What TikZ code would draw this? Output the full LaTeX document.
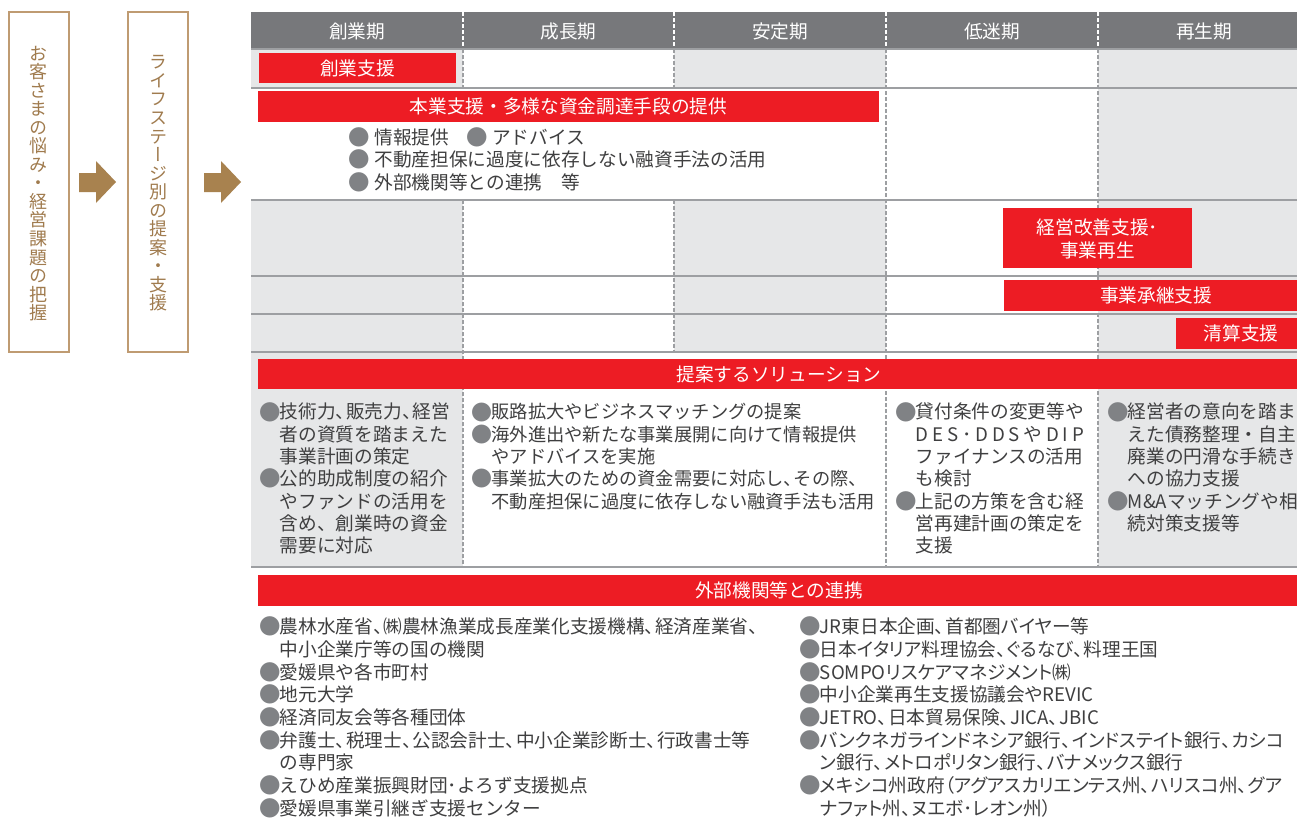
\documentclass[tikz,border=0pt]{standalone}
\usepackage{fontspec}
\setmainfont{Noto Sans CJK JP}
\newfontfamily\vjp{Noto Sans CJK JP}[RawFeature=+vert]
\newfontfamily\pjp{Noto Sans CJK JP}[RawFeature=+palt]
\definecolor{brd}{HTML}{BF9B72}
\definecolor{brtxt}{HTML}{A07B4E}
\definecolor{arr}{HTML}{A8824F}
\definecolor{hdr}{HTML}{77787B}
\definecolor{lg}{HTML}{E6E7E8}
\definecolor{ln}{HTML}{9D9FA2}
\definecolor{rd}{HTML}{ED1C24}
\definecolor{tx}{HTML}{3F3F40}
\definecolor{bul}{HTML}{808285}
\newcommand\bu{\makebox[1em]{\raisebox{-0.06em}{\scalebox{1.15}{\color{bul}●}}}}
\newcommand\cm{\makebox[0.55em][l]{、}}
\newcommand\cmf{\makebox[1em][l]{、}}
\newcommand\st{\rule{0pt}{12.3pt}}
\newcommand\ind{\hspace*{1em}}
\begin{document}
\begin{tikzpicture}[x=0.75pt,y=-0.75pt,
  lbl/.style={font=\fontsize{14}{17}\selectfont, text height=12.3pt, text depth=1.7pt, inner sep=0},
  wl/.style={lbl, text=white},
  lst/.style={anchor=north west, inner sep=0, align=left, text=tx, font=\fontsize{14}{17}\selectfont},
  lst6/.style={lst, font=\fontsize{14}{16.7}\selectfont},
  vtxt/.style={align=center, text=brtxt, font=\vjp\fontsize{13.5}{13.9}\selectfont, inner sep=0},
  lbox/.style={draw=brd, line width=1pt},
  barrow/.style={fill=arr},
  hline/.style={draw=ln, line width=1.3pt},
  dline/.style={draw=ln, line width=0.8pt, dash pattern=on 3pt off 1.5pt},
  hdline/.style={draw=white, line width=1.2pt, dash pattern=on 3pt off 1.5pt},
]
\useasboundingbox (0,0) rectangle (1297,821);
\clip (0,0) rectangle (1297,821);
\fill[white] (0,0) rectangle (1297,821);

% left boxes
\draw[lbox] (9,12) rectangle (69,352);
\node[vtxt] (concern) at (39,183.5) {お\\客\\さ\\ま\\の\\悩\\み\\・\\経\\営\\課\\題\\の\\把\\握};
\draw[lbox] (128,12) rectangle (188,352);
\node[vtxt] (stage) at (158,183.5) {ラ\\イ\\フ\\ス\\テ\\ー\\ジ\\別\\の\\提\\案\\・\\支\\援};
% block arrows
\fill[barrow] (79,173) -- (96,173) -- (96,161) -- (116,182) -- (96,203) -- (96,192) -- (79,192) -- cycle;
\fill[barrow] (204,173) -- (221,173) -- (221,161) -- (241,182) -- (221,203) -- (221,192) -- (204,192) -- cycle;

% backgrounds
\fill[lg] (251,49) rectangle (463,88);
\fill[lg] (251,200) rectangle (463,567);
\fill[lg] (674,49) rectangle (886,88);
\fill[lg] (674,200) rectangle (886,352);
\fill[lg] (1098,49) rectangle (1310,567);
% header
\fill[hdr] (251,12) rectangle (1310,49);
\foreach \xx in {463,674,886,1098} \draw[hdline] (\xx,12) -- (\xx,49);
% dashed separators
\draw[dline] (463,49) -- (463,88);
\draw[dline] (463,200) -- (463,567);
\draw[dline] (674,49) -- (674,88);
\draw[dline] (674,200) -- (674,352);
\draw[dline] (886,49) -- (886,567);
\draw[dline] (1098,49) -- (1098,567);
% horizontal lines
\foreach \yy in {49,88,200,276,314,352,567} \draw[hline] (251,\yy) -- (1310,\yy);

% header labels
\node[wl] (h1) at (357,31) {創業期};
\node[wl] (h2) at (568.5,31) {成長期};
\node[wl] (h3) at (780,31) {安定期};
\node[wl] (h4) at (992,31) {低迷期};
\node[wl] (h5) at (1204,31) {再生期};

% red bars
\fill[rd] (259,53) rectangle (456,83);
\node[wl] (sogyo) at (357.5,68) {創業支援};
\fill[rd] (258,91) rectangle (879,122);
\node[wl] (hongyo) at (568.5,106.5) {本業支援・多様な資金調達手段の提供};
\fill[rd] (1003,208) rectangle (1192,268);
\node[wl, align=center, text height=, text depth=] (kaizen) at (1097.5,239) {経営改善支援･\\事業再生};
\fill[rd] (1004,280) rectangle (1310,311);
\node[wl] (shokei) at (1156,295.5) {事業承継支援};
\fill[rd] (1176,318) rectangle (1310,349);
\node[wl] (seisan) at (1241,333.5) {清算支援};
\fill[rd] (258,359) rectangle (1310,389);
\node[wl] (solution) at (779,374) {提案するソリューション};
\fill[rd] (258,575) rectangle (1310,606);
\node[wl] (renkei) at (779,590.5) {外部機関等との連携};

% row 2 list
\node[lst] (hlist) at (350,127.2) {\st\bu\hspace{0.3em}情報提供　\bu\hspace{0.3em}アドバイス\\
\bu\hspace{0.3em}不動産担保に過度に依存しない融資手法の活用\\
\bu\hspace{0.3em}外部機関等との連携　等};

% solutions
\node[lst6] (sol1) at (261,402) {\st\bu 技術力\cm 販売力\cm 経営\\
\ind 者の資質を踏まえた\\
\ind 事業計画の策定\\
\bu 公的助成制度の紹介\\
\ind やファンドの活用を\\
\ind 含め\cmf 創業時の資金\\
\ind 需要に対応};
\node[lst6, font=\fontsize{13.7}{16.7}\selectfont] (sol2) at (473,402.3) {\st\bu 販路拡大やビジネスマッチングの提案\\
\bu 海外進出や新たな事業展開に向けて情報提供\\
\ind やアドバイスを実施\\
\bu 事業拡大のための資金需要に対応し\cm その際\cm\\
\ind 不動産担保に過度に依存しない融資手法も活用};
\node[lst6] (sol4) at (897,402) {\st\bu 貸付条件の変更等や\\
\ind\makebox[9em][s]{D\hfill E\hfill S\hfill ･\hfill D\hfill D\hfill S\hfill や\hfill D\hfill I\hfill P}\\
\ind ファイナンスの活用\\
\ind も検討\\
\bu 上記の方策を含む経\\
\ind 営再建計画の策定を\\
\ind 支援};
\node[lst6] (sol5) at (1109,402) {\st\bu 経営者の意向を踏ま\\
\ind えた債務整理・自主\\
\ind 廃業の円滑な手続き\\
\ind への協力支援\\
\bu M\&Aマッチングや相\\
\ind 続対策支援等};

% partners
\node[lst] (ext1) at (261,616.7) {\st\bu 農林水産省\cm ㈱農林漁業成長産業化支援機構\cm 経済産業省\cm\\
\ind 中小企業庁等の国の機関\\
\bu 愛媛県や各市町村\\
\bu 地元大学\\
\bu 経済同友会等各種団体\\
\bu 弁護士\cm 税理士\cm 公認会計士\cm 中小企業診断士\cm 行政書士等\\
\ind の専門家\\
\bu えひめ産業振興財団･よろず支援拠点\\
\bu 愛媛県事業引継ぎ支援センター};
\node[lst, font=\pjp\fontsize{14}{17}\selectfont] (ext2) at (801,616.7) {\st\bu JR東日本企画\cm 首都圏バイヤー等\\
\bu 日本イタリア料理協会\cm ぐるなび\cm 料理王国\\
\bu SOMPOリスケアマネジメント㈱\\
\bu 中小企業再生支援協議会やREVIC\\
\bu JETRO\cm 日本貿易保険\cm JICA\cm JBIC\\
\bu バンクネガラインドネシア銀行\cm インドステイト銀行\cm カシコ\\
\ind ン銀行\cm メトロポリタン銀行\cm バナメックス銀行\\
\bu メキシコ州政府（アグアスカリエンテス州\cm ハリスコ州\cm グア\\
\ind ナファト州\cm ヌエボ･レオン州）};
\end{tikzpicture}
\end{document}
